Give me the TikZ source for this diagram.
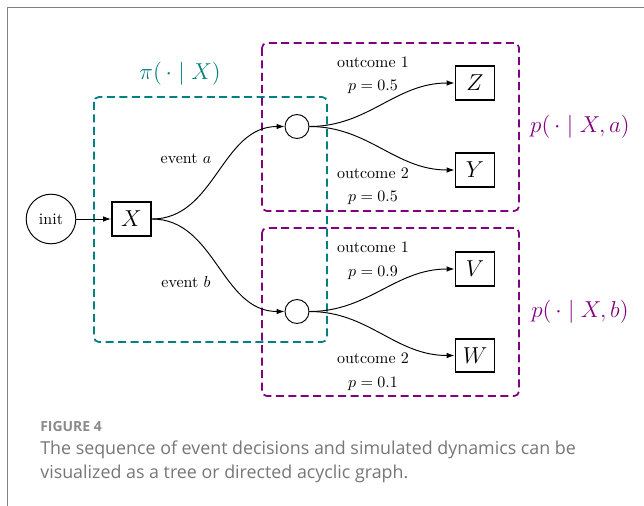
\documentclass[tikz,border=0pt]{standalone}
\usepackage{fontspec}
\newfontfamily\capfont{Open Sans}
\usetikzlibrary{arrows.meta}

\definecolor{polteal}{RGB}{0,128,128}
\definecolor{dynpurple}{RGB}{128,0,128}
\definecolor{capgray}{RGB}{118,118,118}

\begin{document}
\begin{tikzpicture}[x=0.625pt, y=-0.625pt,
    state/.style={draw, line width=1.1pt, minimum width=24.5pt, minimum height=21pt, inner sep=0pt, font=\Large},
    chance/.style={draw, circle, line width=0.6pt, minimum size=15pt, inner sep=0pt},
    arr/.style={-{Latex[length=5pt,width=3.5pt]}, line width=0.6pt},
    region/.style={dashed, dash pattern=on 5pt off 2.8pt, line width=1.1pt, rounded corners=3pt},
    elabel/.style={font=\normalsize, inner sep=0pt}]
    \useasboundingbox (0,0) rectangle (644,506);
    \draw[gray, line width=1pt] (7.5,506) |- (644,7.5);

    % regions
    \draw[region, polteal] (94,97) rectangle (327,342);
    \draw[region, dynpurple] (262,43) rectangle (519,211);
    \draw[region, dynpurple] (262,228) rectangle (519,396);
    \node[text=polteal, font=\Large] (pilbl) at (180,74) {$\pi(\,\cdot\mid X)$};
    \node[text=dynpurple, font=\Large] (pa) at (580,127) {$p(\,\cdot\mid X,a)$};
    \node[text=dynpurple, font=\Large] (pb) at (580,312) {$p(\,\cdot\mid X,b)$};

    % nodes
    \node[draw, circle, line width=0.6pt, minimum size=31pt, inner sep=0pt] (init) at (51,219) {init};
    \node[state] (X) at (131.5,219) {$X$};
    \node[chance] (ca) at (297,126.5) {};
    \node[chance] (cb) at (297,311.5) {};
    \node[state] (Z) at (475,83) {$Z$};
    \node[state] (Y) at (475,170) {$Y$};
    \node[state] (V) at (475,269) {$V$};
    \node[state] (W) at (475,355.5) {$W$};

    % edges
    \draw[arr] (init) -- (X);
    \draw[arr] (X.east) to[out=0, in=180] (ca.west);
    \draw[arr] (X.east) to[out=0, in=180] (cb.west);
    \draw[arr] (ca.east) to[out=0, in=180] (Z.west);
    \draw[arr] (ca.east) to[out=0, in=180] (Y.west);
    \draw[arr] (cb.east) to[out=0, in=180] (V.west);
    \draw[arr] (cb.east) to[out=0, in=180] (W.west);

    % labels
    \node[elabel] (ea) at (186,159) {event $a$};
    \node[elabel] (eb) at (186,282) {event $b$};
    \node[elabel] (o1a) at (373,62) {outcome 1};
    \node[elabel] (p1a) at (373,87) {$p=0.5$};
    \node[elabel] (o2a) at (373,173) {outcome 2};
    \node[elabel] (p2a) at (373,198) {$p=0.5$};
    \node[elabel] (o1b) at (373,247) {outcome 1};
    \node[elabel] (p1b) at (373,273) {$p=0.9$};
    \node[elabel] (o2b) at (373,358) {outcome 2};
    \node[elabel] (p2b) at (373,384) {$p=0.1$};

    % caption
    \node[anchor=base west, inner sep=0pt, text=capgray!85, font=\capfont\fontsize{8.7}{10}\selectfont\bfseries] (fig) at (40,431) {FIGURE 4};
    \node[anchor=north west, inner sep=0pt, text=capgray, align=left,
          font=\capfont\fontsize{11.15}{14.4}\selectfont] (cap) at (40,441)
          {The sequence of event decisions and simulated dynamics can be\\visualized as a tree or directed acyclic graph.};
\end{tikzpicture}
\end{document}
